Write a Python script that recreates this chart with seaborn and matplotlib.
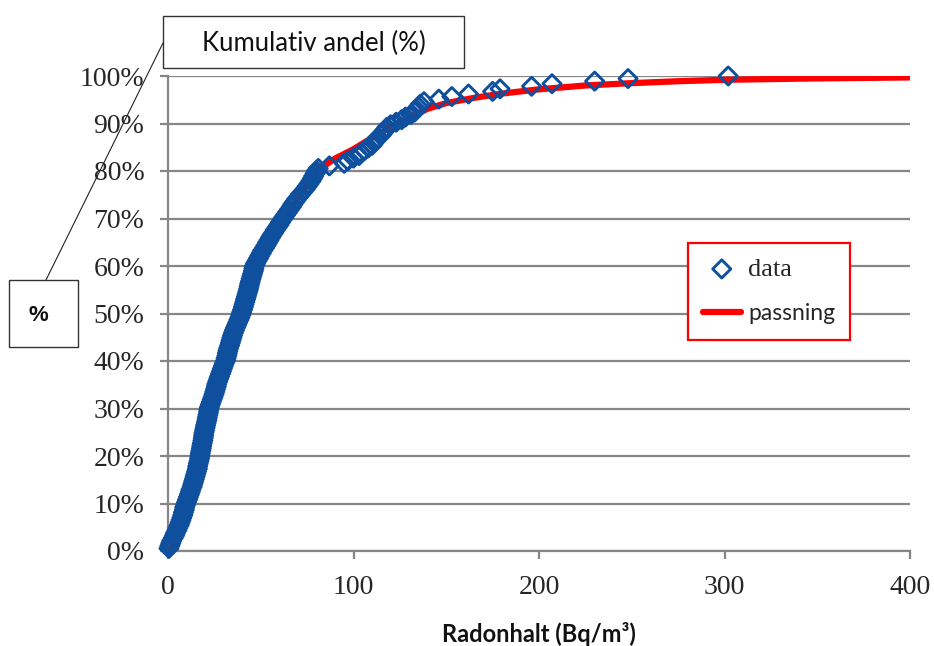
import pandas as pd
import seaborn as sns
import matplotlib.pyplot as plt
from matplotlib.ticker import PercentFormatter, MultipleLocator
from matplotlib.patches import Rectangle
from matplotlib.lines import Line2D

radon = [
    0.5, 1, 1.5, 2, 2.8, 3.5, 4, 4.8, 5.3, 6,
    6.5, 7, 7.5, 8, 8.3, 8.8, 9, 9.5, 10, 10.5,
    11, 11.5, 12, 12.4, 13, 13.4, 13.8, 14.2, 14.6, 15,
    15.4, 15.8, 16, 16.3, 16.7, 17, 17.2, 17.4, 17.7, 18,
    18.2, 18.5, 18.8, 19, 19.2, 19.4, 19.7, 20, 20.3, 20.6,
    21, 21.2, 21.5, 21.8, 22, 22.3, 22.8, 23.3, 23.8, 24.3,
    24.8, 25.2, 25.6, 26, 26.3, 26.8, 27.3, 27.8, 28.3, 28.8,
    29.3, 29.8, 30.3, 31, 31.3, 31.7, 32, 32.3, 32.7, 33.2,
    33.6, 34, 34.4, 34.8, 35.3, 35.8, 36.4, 37, 37.6, 38.2,
    38.8, 39.3, 39.7, 40.2, 40.6, 41, 41.4, 41.8, 42.2, 42.6,
    43, 43.4, 43.7, 44, 44.4, 44.8, 45.2, 45.6, 46, 46.3,
    46.6, 47.2, 48, 48.8, 49.5, 50.3, 51, 52, 52.8, 53.6,
    54.4, 55.2, 56, 57, 57.8, 58.8, 59.8, 60.6, 61.5, 62.5,
    63.5, 64.5, 65.5, 66.5, 67.3, 68.3, 69.3, 70.5, 71.5, 72.8,
    74, 75, 76, 77, 77.8, 78.5, 79.3, 80, 81, 87,
    95, 97, 100, 103, 104, 106, 108, 110, 111, 112,
    113, 115, 116, 117, 118, 120, 123, 126, 128, 131,
    133, 134, 135, 136, 138, 146, 153, 162, 175, 179,
    196, 207, 230, 248, 302,
]

# fitted curve ("passning")
fit_x = [0, 2, 5, 8, 10, 13, 16, 20, 25, 30, 35, 40, 45, 50, 60, 70, 80, 90,
         100, 110, 120, 130, 140, 150, 165, 180, 200, 225, 250, 275, 300,
         325, 350, 375, 400]
fit_pct = [0, 1.0, 4.5, 8.0, 10.5, 15.0, 19.5, 25.0, 32.0, 39.0, 45.5, 51.0,
           56.0, 60.5, 68.0, 74.5, 80.0, 82.6, 84.6, 87.0, 89.3, 91.3, 93.1,
           94.3, 95.4, 96.3, 97.2, 98.0, 98.5, 98.9, 99.2, 99.35, 99.5,
           99.6, 99.7]

blue = "#0E4F9E"
grey = "#868686"

df = pd.DataFrame({"radon": radon})
df["andel"] = df["radon"].rank(method="first", pct=True) * 100
fit = pd.DataFrame({"radon": fit_x, "andel": fit_pct})

sns.set_theme(style="white")
plt.rcParams["font.family"] = ["Liberation Serif", "DejaVu Serif"]

fig = plt.figure(figsize=(9.34, 6.46), dpi=100)


def fx(px):
    return px / 934


def fy(py):
    return 1 - py / 646


ax = fig.add_axes([fx(168), fy(551), fx(910) - fx(168), fy(76) - fy(551)])

sns.scatterplot(data=df, x="radon", y="andel", marker="D", s=85,
                facecolor="none", edgecolor=blue, linewidth=2.1,
                label="data", zorder=3, clip_on=False, ax=ax)
sns.lineplot(data=fit, x="radon", y="andel", color="#FF0000", lw=4.5,
             label="passning", zorder=2, ax=ax)

ax.set_xlim(0, 400)
ax.set_ylim(0, 100)
ax.xaxis.set_major_locator(MultipleLocator(100))
ax.yaxis.set_major_locator(MultipleLocator(10))
ax.yaxis.set_major_formatter(PercentFormatter(decimals=0))

ax.grid(axis="y", color=grey, lw=1.6)
ax.set_axisbelow(True)
for side in ["top", "right"]:
    ax.spines[side].set_visible(False)
for side in ["left", "bottom"]:
    ax.spines[side].set_color(grey)
    ax.spines[side].set_linewidth(1.6)
ax.tick_params(axis="both", direction="out", length=6, width=1.6, color=grey,
               labelsize=20, labelcolor="#262626", pad=11)
ax.tick_params(axis="x", bottom=True)
ax.tick_params(axis="y", left=True)

ax.set_ylabel("")
ax.set_xlabel("Radonhalt (Bq/m³)", family=["Lato", "DejaVu Sans"],
              weight="bold", size=17, color="#111111", labelpad=16)

leg = ax.legend(loc="upper left", bbox_to_anchor=(fx(688), fy(243)),
                bbox_transform=fig.transFigure, borderaxespad=0,
                fontsize=18, handlelength=1.5, handletextpad=0.3,
                borderpad=0.6, labelspacing=0.9, frameon=True,
                fancybox=False, framealpha=1)
leg.get_frame().set_edgecolor("#FF0000")
leg.get_frame().set_linewidth(1.6)
leg.get_texts()[0].set_fontsize(19)
leg.get_texts()[1].set_fontfamily(["Lato", "DejaVu Sans"])
leg.get_texts()[1].set_fontsize(16.5)

# axis title callout boxes
fig.add_artist(Rectangle((fx(163), fy(68)), fx(464) - fx(163), fy(16) - fy(68),
                         transform=fig.transFigure, fc="white", ec="#333333", lw=1))
fig.text(fx(314), fy(43), "Kumulativ andel (%)", ha="center", va="center",
         family=["Lato", "DejaVu Sans"], size=18.5, color="#111111")
fig.add_artist(Rectangle((fx(9), fy(347)), fx(78) - fx(9), fy(280) - fy(347),
                         transform=fig.transFigure, fc="white", ec="#333333", lw=1))
fig.text(fx(38), fy(315), "%", ha="center", va="center",
         family=["Liberation Sans", "DejaVu Sans"], weight="bold", size=16,
         color="#111111")
fig.add_artist(Line2D([fx(46), fx(163)], [fy(280), fy(43)],
                      transform=fig.transFigure, color="#222222", lw=0.8))

fig.savefig("out.png", dpi=100)
